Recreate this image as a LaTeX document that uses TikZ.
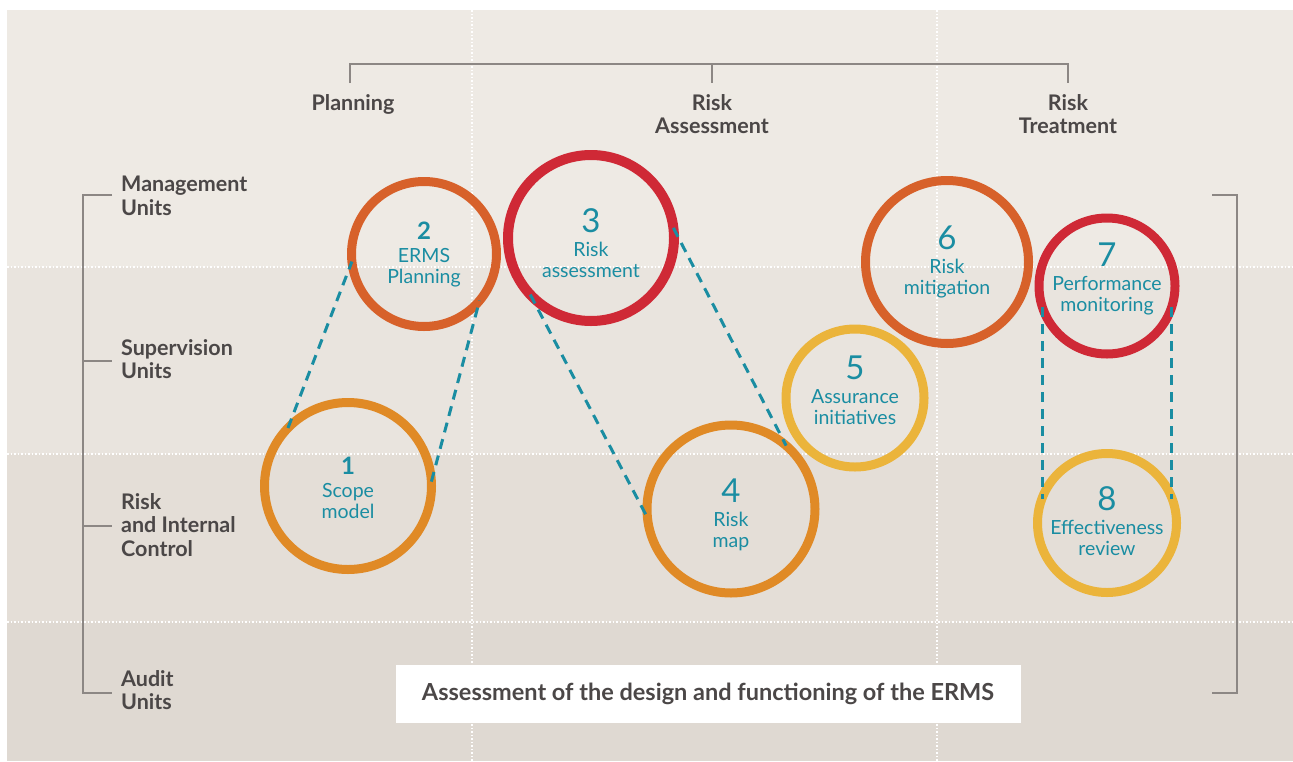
\documentclass[tikz,border=0pt]{standalone}
\usepackage{fontspec}
\setmainfont{Lato}
\usetikzlibrary{calc}
\definecolor{bgA}{HTML}{EEEAE4}
\definecolor{bgB}{HTML}{E9E4DE}
\definecolor{bgC}{HTML}{E4DED7}
\definecolor{bgD}{HTML}{DFD9D2}
\definecolor{labgray}{HTML}{4B4747}
\definecolor{brk}{HTML}{8C8784}
\definecolor{teal}{HTML}{1A8DA2}
\definecolor{cOrange}{HTML}{E08A26}
\definecolor{cDark}{HTML}{D7612A}
\definecolor{cRed}{HTML}{CF2936}
\definecolor{cYellow}{HTML}{EBB43B}
\tikzset{
  x=1pt,y=-1pt,
  ring/.style={circle,draw=#1,line width=9pt,inner sep=0pt,outer sep=0pt},
  txt/.style={text=teal,align=center,inner sep=0pt,font=\fontsize{19.5}{21}\selectfont},
  lab/.style={text=labgray,font=\bfseries\fontsize{21.5}{23.5}\selectfont,inner sep=0pt},
  brline/.style={draw=brk,line width=1.5pt},
  conn/.style={draw=teal,line width=3pt,dash pattern=on 10pt off 7pt},
  grid/.style={draw=white,line width=1.5pt,dash pattern=on 1.5pt off 2pt},
}
\newcommand{\bignum}[1]{{\fontsize{33}{30}\selectfont #1}\\[3pt]}
\newcommand{\smallnum}[1]{{\bfseries\fontsize{24}{26}\selectfont #1}\\[2pt]}
\begin{document}
\begin{tikzpicture}
\useasboundingbox (0,0) rectangle (1293,761);
\fill[white] (0,0) rectangle (1293,761);
\fill[bgA] (7,10) rectangle (1293,267);
\fill[bgB] (7,267) rectangle (1293,454);
\fill[bgC] (7,454) rectangle (1293,622);
\fill[bgD] (7,622) rectangle (1293,761);
\draw[grid] (7,267) -- (1293,267);
\draw[grid] (7,454) -- (1293,454);
\draw[grid] (7,622) -- (1293,622);
\draw[grid] (472,10) -- (472,761);
\draw[grid] (937,10) -- (937,761);

% top bracket
\coordinate (tl) at (350,83);
\coordinate (tm) at (712,83);
\coordinate (tr) at (1068,83);
\draw[brline] (tl) -- (350,64) -- (1068,64) -- (tr);
\draw[brline] (712,64) -- (tm);
\node[lab,align=center] (planning) at (353,104) {Planning};
\node[lab,align=center,anchor=north] (riskass) at (712,94) {Risk\\Assessment};
\node[lab,align=center,anchor=north] (risktreat) at (1068,94) {Risk\\Treatment};

% left bracket
\draw[brline] (112,195) -- (83,195) -- (83,693) -- (112,693);
\draw[brline] (83,361) -- (112,361);
\draw[brline] (83,526) -- (112,526);
\node[lab,align=left,anchor=west] (mgmt) at (121,196) {Management\\Units};
\node[lab,align=left,anchor=west] (sup) at (121,359) {Supervision\\Units};
\node[lab,align=left,anchor=west] (ric) at (121,525) {Risk\\and Internal\\Control};
\node[lab,align=left,anchor=west] (audit) at (121,690) {Audit\\Units};

% right bracket
\draw[brline] (1212,195) -- (1237,195) -- (1237,693) -- (1212,693);

% bottom box
\node[fill=white,minimum width=625pt,minimum height=58pt,inner sep=0pt,
  text=labgray,font=\bfseries\fontsize{23.5}{26}\selectfont] (box) at (708,694)
  {Assessment of the design and functioning of the ERMS};

% circles
\node[ring=cOrange,minimum size=167pt,label={[txt,yshift=-2pt]center:{\smallnum{1}Scope\\model}}] (c1) at (348,486) {};
\node[ring=cDark,minimum size=145pt,label={[txt,yshift=-1pt]center:{\smallnum{2}ERMS\\Planning}}] (c2) at (424,254) {};
\node[ring=cRed,minimum size=166pt,line width=10pt,label={[txt,yshift=-5pt]center:{\bignum{3}Risk\\assessment}}] (c3) at (591,238) {};
\node[ring=cOrange,minimum size=168pt,label={[txt,yshift=-6pt]center:{\bignum{4}Risk\\map}}] (c4) at (731,509) {};
\node[ring=cYellow,minimum size=138pt,label={[txt,yshift=8pt]center:{\bignum{5}Assurance\\initiatives}}] (c5) at (855,398) {};
\node[ring=cDark,minimum size=163pt,label={[txt,yshift=0pt]center:{\bignum{6}Risk\\mitigation}}] (c6) at (947,262) {};
\node[ring=cRed,minimum size=136pt,label={[txt,yshift=7pt]center:{\bignum{7}Performance\\monitoring}}] (c7) at (1107,286) {};
\node[ring=cYellow,minimum size=139pt,label={[txt,yshift=2pt]center:{\bignum{8}Effectiveness\\review}}] (c8) at (1107,523) {};

% connectors
\draw[conn] (c1.136) -- (c2.186);
\draw[conn] (c1.3) -- (c2.-40);
\draw[conn] (c3.223) -- (c4.186);
\draw[conn] (c3.7) -- (c4.49);
\draw[conn] (c7.198) -- (c7.198 |- c8.160);
\draw[conn] (c7.-18) -- (c7.-18 |- c8.20);
\end{tikzpicture}
\end{document}
